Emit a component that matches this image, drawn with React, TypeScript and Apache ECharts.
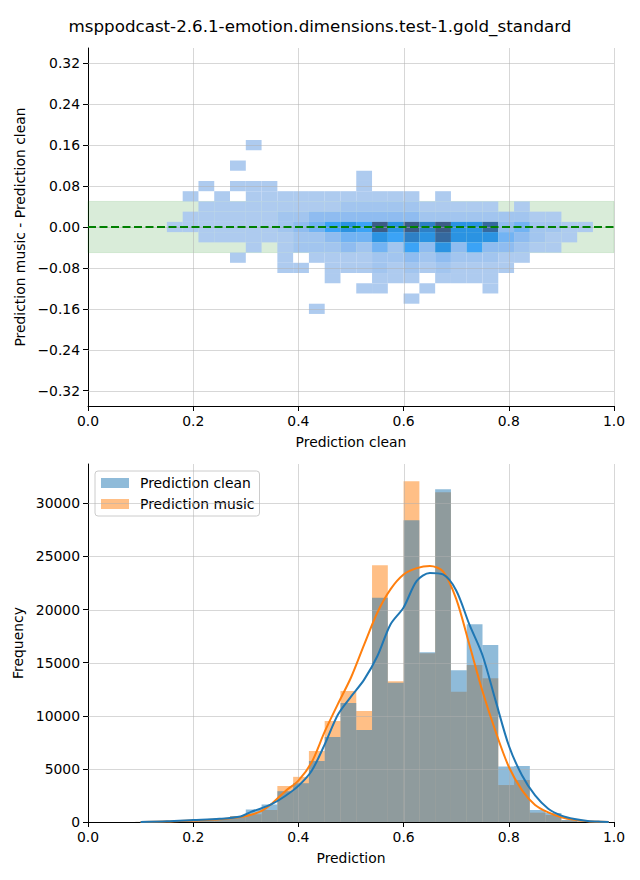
import React, { useEffect, useRef } from "react";
import * as echarts from "echarts";

const TITLE = "msppodcast-2.6.1-emotion.dimensions.test-1.gold_standard";
const TOP_X_NAME = "Prediction clean";
const TOP_Y_NAME = "Prediction music - Prediction clean";
const BOTTOM_X_NAME = "Prediction";
const BOTTOM_Y_NAME = "Frequency";
const SERIES_CLEAN = "Prediction clean";
const SERIES_MUSIC = "Prediction music";

const xTicks = [0, 0.2, 0.4, 0.6, 0.8, 1.0];
const diffTicks = [-0.32, -0.24, -0.16, -0.08, 0, 0.08, 0.16, 0.24, 0.32];
const freqTicks = [0, 5000, 10000, 15000, 20000, 25000, 30000];
const diffMin = -0.35;
const diffMax = 0.35;
const freqMax = 33700;
const toleranceBand = 0.05;

// 2D histogram: bins along x start at heatXStart, width heatXWidth; rows centred on row*heatYWidth
const heatXStart = 0.15;
const heatXWidth = 0.03;
const heatYWidth = 0.02;
// [row, first column, density level per consecutive column (0 = empty)]
const heatRows: [number, number, number[]][] = [
  [8, 5, [1]],
  [6, 4, [1]],
  [5, 12, [1]],
  [4, 2, [1, 0, 1, 1, 1, 0, 0, 0, 0, 0, 1]],
  [3, 1, [1, 0, 1, 0, 1, 1, 1, 1, 1, 1, 1, 1, 1, 1, 1, 0, 1]],
  [2, 2, [1, 1, 1, 1, 1, 1, 1, 1, 1, 2, 2, 2, 2, 2, 1, 1, 1, 1, 1, 0, 1]],
  [1, 1, [1, 1, 1, 1, 1, 1, 2, 2, 3, 3, 3, 3, 3, 3, 3, 2, 2, 2, 2, 2, 2, 2, 1, 1]],
  [0, 0, [1, 1, 1, 1, 1, 1, 1, 2, 3, 4, 5, 6, 5, 9, 6, 9, 7, 9, 6, 6, 8, 3, 4, 2, 2, 1, 1]],
  [-1, 2, [1, 1, 1, 1, 1, 1, 2, 2, 3, 4, 4, 6, 5, 7, 6, 8, 6, 6, 6, 4, 3, 2, 1, 1]],
  [-2, 5, [1, 0, 1, 2, 2, 2, 3, 2, 4, 2, 5, 3, 6, 3, 5, 3, 3, 2, 1, 1]],
  [-3, 4, [1, 0, 0, 1, 0, 1, 1, 1, 1, 2, 2, 3, 2, 3, 2, 2, 2, 1, 1]],
  [-4, 7, [1, 1, 0, 1, 1, 1, 2, 1, 2, 1, 2, 1, 1, 1, 1]],
  [-5, 10, [1, 0, 0, 1, 1, 1, 0, 1, 1, 1, 1]],
  [-6, 12, [1, 1, 0, 0, 1, 0, 0, 0, 1]],
  [-7, 15, [1]],
  [-8, 9, [1]],
];
const heatPalette = ["#ffffff", "#aecbef", "#a2c5ef", "#8fbcf0", "#72b3f3", "#3ba3f6", "#2b93e2", "#2e80c6", "#35699f", "#3c5c86"];

// 1D histograms
const histStart = 0.09;
const histWidth = 0.03;
const histClean = [10, 40, 90, 150, 190, 290, 520, 1180, 1650, 2900, 3650, 5740, 8000, 11200, 8650, 21100, 13100, 28400, 15990, 31320, 14290, 18620, 16650, 5230, 5270, 1130, 850, 190, 60, 20];
const histMusic = [10, 30, 70, 120, 170, 260, 560, 720, 1130, 3390, 4250, 6680, 9500, 12330, 10450, 24170, 13250, 32070, 15880, 31030, 12260, 14770, 13540, 3480, 3950, 880, 660, 150, 50, 15];

// KDE curves (scaled to counts)
const kdeX = [0.1, 0.15, 0.2, 0.25, 0.29, 0.31, 0.33, 0.35, 0.375, 0.4, 0.425, 0.45, 0.475, 0.5, 0.525, 0.55, 0.575, 0.6, 0.625, 0.65, 0.675, 0.7, 0.725, 0.75, 0.775, 0.8, 0.825, 0.85, 0.875, 0.9, 0.925, 0.95, 0.975, 0.99];
const kdeClean = [10, 60, 180, 300, 520, 950, 1300, 1700, 2450, 3400, 4800, 7300, 10100, 11800, 13400, 15600, 18600, 20200, 22700, 23450, 23300, 21800, 18600, 15700, 11400, 7200, 4400, 2500, 1250, 600, 280, 100, 30, 10];
const kdeMusic = [5, 40, 140, 250, 480, 680, 1050, 1750, 2900, 3900, 5600, 8500, 11100, 13600, 16700, 19700, 21900, 23300, 23900, 24100, 23600, 21000, 16700, 12300, 8500, 5200, 3000, 1600, 900, 450, 200, 80, 20, 5];

const FONT = "DejaVu Sans";
const BLACK = "#000000";

function fmtDiff(v: number) {
  const s = Math.abs(v).toFixed(2);
  return v < -1e-9 ? "\u2212" + s : s;
}

function gridOverlay(idx: number, xs: number[], ys: number[], yBase: number) {
  return {
    type: "custom",
    xAxisIndex: idx,
    yAxisIndex: idx,
    z: 4,
    silent: true,
    clip: false,
    data: [...xs.map((x) => [x, yBase, 0]), ...ys.map((y) => [0, y, 1])],
    encode: { x: 0, y: 1 },
    renderItem: (params: any, api: any) => {
      const cs = params.coordSys;
      const style = { stroke: "rgba(176,176,176,0.5)", lineWidth: 1 };
      if (api.value(2) === 1) {
        const y = Math.round(api.coord([0, api.value(1)])[1]) + 0.5;
        return { type: "line", shape: { x1: cs.x, y1: y, x2: cs.x + cs.width, y2: y }, style };
      }
      const x = Math.round(api.coord([api.value(0), yBase])[0]) + 0.5;
      return { type: "line", shape: { x1: x, y1: cs.y, x2: x, y2: cs.y + cs.height }, style };
    },
  };
}

function axisCommon() {
  return {
    axisLine: { show: true, onZero: false, lineStyle: { color: BLACK, width: 1 } },
    axisTick: { show: true, length: 5, lineStyle: { color: BLACK, width: 1 } },
    splitLine: { show: false },
    nameLocation: "middle" as const,
    nameTextStyle: { fontFamily: FONT, fontSize: 13.9, color: BLACK },
  };
}

export default function App() {
  const ref = useRef<HTMLDivElement>(null);
  useEffect(() => {
    if (!ref.current) return;
    const chart = echarts.init(ref.current, undefined, { renderer: "svg" });

    const heatData: number[][] = [];
    heatRows.forEach(([row, first, levels]) => {
      levels.forEach((lvl, k) => {
        if (lvl > 0) {
          const col = first + k;
          heatData.push([
            heatXStart + col * heatXWidth,
            heatXStart + (col + 1) * heatXWidth,
            (row - 0.5) * heatYWidth,
            (row + 0.5) * heatYWidth,
            lvl,
          ]);
        }
      });
    });

    const histData = (arr: number[]) => arr.map((c, i) => [histStart + i * histWidth, histStart + (i + 1) * histWidth, c]);
    const barRender = (fill: string) => (params: any, api: any) => {
      const p0 = api.coord([api.value(0), api.value(2)]);
      const p1 = api.coord([api.value(1), 0]);
      return { type: "rect", shape: { x: p0[0], y: p0[1], width: p1[0] - p0[0], height: p1[1] - p0[1] }, style: { fill } };
    };
    const cleanFill = "rgba(31,119,180,0.5)";
    const musicFill = "rgba(255,127,14,0.5)";

    const option: any = {
      animation: false,
      textStyle: { fontFamily: FONT },
      title: {
        text: TITLE,
        left: "center",
        top: 17,
        padding: 0,
        textStyle: { fontFamily: FONT, fontSize: 16.7, fontWeight: "normal", color: BLACK },
      },
      legend: {
        data: [SERIES_CLEAN, SERIES_MUSIC],
        orient: "vertical",
        left: 95,
        top: 471,
        padding: [5, 5, 5, 6],
        itemWidth: 28,
        itemHeight: 10,
        itemGap: 7,
        icon: "rect",
        borderColor: "#cccccc",
        borderWidth: 1,
        borderRadius: 3,
        backgroundColor: "rgba(255,255,255,0.8)",
        textStyle: { fontFamily: FONT, fontSize: 13.9, color: BLACK, padding: [0, 0, 0, 6] },
      },
      grid: [
        { left: 88, top: 48, width: 526, height: 358 },
        { left: 88, top: 464, width: 526, height: 358 },
      ],
      xAxis: [
        {
          ...axisCommon(),
          type: "value",
          gridIndex: 0,
          min: 0,
          max: 1,
          interval: 0.2,
          name: TOP_X_NAME,
          nameGap: 29,
          axisLabel: { fontFamily: FONT, fontSize: 13.9, color: BLACK, margin: 8, formatter: (v: number) => v.toFixed(1) },
        },
        {
          ...axisCommon(),
          type: "value",
          gridIndex: 1,
          min: 0,
          max: 1,
          interval: 0.2,
          name: BOTTOM_X_NAME,
          nameGap: 29,
          axisLabel: { fontFamily: FONT, fontSize: 13.9, color: BLACK, margin: 8, formatter: (v: number) => v.toFixed(1) },
        },
      ],
      yAxis: [
        {
          ...axisCommon(),
          type: "value",
          gridIndex: 0,
          min: diffMin,
          max: diffMax,
          name: TOP_Y_NAME,
          nameGap: 57,
          axisTick: { show: true, length: 5, lineStyle: { color: BLACK, width: 1 }, customValues: diffTicks },
          axisLabel: { fontFamily: FONT, fontSize: 13.9, color: BLACK, margin: 8, customValues: diffTicks, formatter: fmtDiff },
        },
        {
          ...axisCommon(),
          type: "value",
          gridIndex: 1,
          min: 0,
          max: freqMax,
          name: BOTTOM_Y_NAME,
          nameGap: 55,
          axisTick: { show: true, length: 5, lineStyle: { color: BLACK, width: 1 }, customValues: freqTicks },
          axisLabel: { fontFamily: FONT, fontSize: 13.9, color: BLACK, margin: 8, customValues: freqTicks, formatter: (v: number) => String(v) },
        },
      ],
      series: [
        {
          type: "custom",
          name: "band",
          xAxisIndex: 0,
          yAxisIndex: 0,
          z: 1,
          silent: true,
          data: [[0, 1, -toleranceBand, toleranceBand]],
          encode: { x: [0, 1], y: [2, 3] },
          renderItem: (params: any, api: any) => {
            const p0 = api.coord([api.value(0), api.value(3)]);
            const p1 = api.coord([api.value(1), api.value(2)]);
            return {
              type: "rect",
              shape: { x: p0[0], y: p0[1], width: p1[0] - p0[0], height: p1[1] - p0[1] },
              style: { fill: "rgba(0,128,0,0.15)", stroke: "rgba(0,128,0,0.12)", lineWidth: 1 },
            };
          },
        },
        {
          type: "custom",
          name: "hist2d",
          xAxisIndex: 0,
          yAxisIndex: 0,
          z: 2,
          silent: true,
          data: heatData,
          encode: { x: [0, 1], y: [2, 3] },
          renderItem: (params: any, api: any) => {
            const p0 = api.coord([api.value(0), api.value(3)]);
            const p1 = api.coord([api.value(1), api.value(2)]);
            return {
              type: "rect",
              shape: { x: p0[0], y: p0[1], width: p1[0] - p0[0], height: p1[1] - p0[1] },
              style: { fill: heatPalette[api.value(4)] },
            };
          },
        },
        gridOverlay(0, xTicks.slice(1), diffTicks, 0),
        {
          type: "line",
          name: "zero",
          xAxisIndex: 0,
          yAxisIndex: 0,
          z: 6,
          silent: true,
          showSymbol: false,
          data: [[0, 0], [1, 0]],
          lineStyle: { color: "#008000", width: 2, type: [8, 3.5] },
        },
        {
          type: "custom",
          name: SERIES_MUSIC,
          xAxisIndex: 1,
          yAxisIndex: 1,
          z: 2,
          itemStyle: { color: musicFill },
          data: histData(histMusic),
          encode: { x: [0, 1], y: 2 },
          renderItem: barRender(musicFill),
        },
        {
          type: "custom",
          name: SERIES_CLEAN,
          xAxisIndex: 1,
          yAxisIndex: 1,
          z: 3,
          itemStyle: { color: cleanFill },
          data: histData(histClean),
          encode: { x: [0, 1], y: 2 },
          renderItem: barRender(cleanFill),
        },
        gridOverlay(1, xTicks.slice(1), freqTicks.slice(1), 0),
        {
          type: "line",
          name: "kde music",
          xAxisIndex: 1,
          yAxisIndex: 1,
          z: 6,
          silent: true,
          showSymbol: false,
          smooth: 0.3,
          data: kdeX.map((x, i) => [x, kdeMusic[i]]),
          lineStyle: { color: "#ff7f0e", width: 2 },
        },
        {
          type: "line",
          name: "kde clean",
          xAxisIndex: 1,
          yAxisIndex: 1,
          z: 7,
          silent: true,
          showSymbol: false,
          smooth: 0.3,
          data: kdeX.map((x, i) => [x, kdeClean[i]]),
          lineStyle: { color: "#1f77b4", width: 2 },
        },
      ],
    };
    chart.setOption(option);
    return () => chart.dispose();
  }, []);
  return <div ref={ref} style={{ position: "absolute", left: 0, top: 0, width: 640, height: 880, background: "#fff" }} />;
}
